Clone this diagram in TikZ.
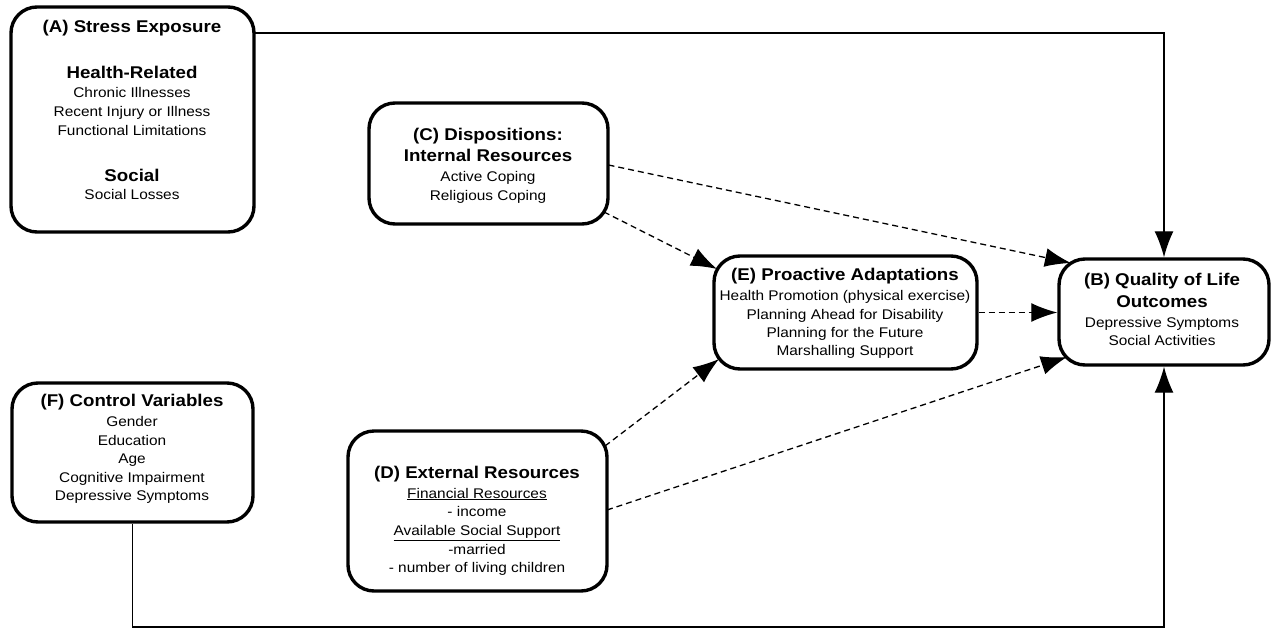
\documentclass[tikz,border=0pt]{standalone}
\usepackage{fontspec}
\setmainfont{Liberation Sans}[FakeStretch=1.1]
\usetikzlibrary{arrows.meta,calc}
\tikzset{
  box/.style={draw, line width=3.4pt, rounded corners=26pt, inner sep=0pt, fill=white},
  ttl/.style={anchor=base, inner sep=0pt, font=\fontsize{17}{20}\selectfont\bfseries},
  txt/.style={anchor=base, inner sep=0pt, font=\fontsize{14}{17}\selectfont},
  conn/.style={line width=1.3pt},
  arr/.style={-{Latex[length=26pt,width=19pt]}},
  dsh/.style={dash pattern=on 6pt off 4pt}
}
\begin{document}
\begin{tikzpicture}[x=1pt,y=-1pt]
\useasboundingbox (0,0) rectangle (1276,629);
% boxes
\node[box, minimum width=243pt, minimum height=225pt] (A) at (132.5,119.5) {};
\node[box, minimum width=239pt, minimum height=121pt] (C) at (488.5,163.5) {};
\node[box, minimum width=263pt, minimum height=113pt] (E) at (845.5,312.5) {};
\node[box, minimum width=210pt, minimum height=106pt] (B) at (1164,312) {};
\node[box, minimum width=241pt, minimum height=139pt] (F) at (132.5,452.5) {};
\node[box, minimum width=259pt, minimum height=160pt] (D) at (477.5,511) {};
% texts A
\node[ttl] (A1) at (132,32) {(A) Stress Exposure};
\node[ttl] (A2) at (132,78.5) {Health-Related};
\node[txt] (A3) at (132,97.5) {Chronic Illnesses};
\node[txt] (A4) at (132,116.5) {Recent Injury or Illness};
\node[txt] (A5) at (132,135) {Functional Limitations};
\node[ttl] (A6) at (132,181.5) {Social};
\node[txt] (A7) at (132,199.5) {Social Losses};
% texts C
\node[ttl] (C1) at (488,140) {(C) Dispositions:};
\node[ttl] (C2) at (488,161.5) {Internal Resources};
\node[txt] (C3) at (488,181.5) {Active Coping};
\node[txt] (C4) at (488,200.5) {Religious Coping};
% texts E
\node[ttl] (E1) at (845,280) {(E) Proactive Adaptations};
\node[txt] (E2) at (845,300.5) {Health Promotion (physical exercise)};
\node[txt] (E3) at (845,319) {Planning Ahead for Disability};
\node[txt] (E4) at (845,337) {Planning for the Future};
\node[txt] (E5) at (845,355) {Marshalling Support};
% texts B
\node[ttl] (B1) at (1162,285) {(B) Quality of Life};
\node[ttl] (B2) at (1162,307) {Outcomes};
\node[txt] (B3) at (1162,327) {Depressive Symptoms};
\node[txt] (B4) at (1162,345) {Social Activities};
% texts F
\node[ttl] (F1) at (132,406.5) {(F) Control Variables};
\node[txt] (F2) at (132,426.5) {Gender};
\node[txt] (F3) at (132,445) {Education};
\node[txt] (F4) at (132,463.5) {Age};
\node[txt] (F5) at (132,482) {Cognitive Impairment};
\node[txt] (F6) at (132,500) {Depressive Symptoms};
% texts D
\node[ttl] (D1) at (477,478.5) {(D) External Resources};
\node[txt] (D2) at (477,498) {\underline{Financial Resources}};
\node[txt] (D3) at (477,516.5) {- income};
\node[txt] (D4) at (477,535.5) {\underline{Available Social Support}};
\node[txt] (D5) at (477,554) {-married};
\node[txt] (D6) at (477,572.5) {- number of living children};
% solid connectors
\coordinate (low) at (640,627);
\draw[conn, arr] ($(A.center)+(121.5,-86.5)$) -| (B.north);
\draw[conn, arr] (F.south) -- (F.south |- low) -| (B.south);
% dashed connectors
\draw[conn, dsh, arr] ($(C.center)+(120,1.5)$) -- ($(B.center)+(-93,-49)$);
\draw[conn, dsh, arr] ($(C.center)+(115.5,48.5)$) -- ($(E.center)+(-128.5,-43.5)$);
\draw[conn, dsh, arr] (E.east) -- (E.east -| B.west);
\draw[conn, dsh, arr] ($(D.center)+(127.5,-65)$) -- ($(E.center)+(-126.5,46.5)$);
\draw[conn, dsh, arr] ($(D.center)+(129.5,-1)$) -- ($(B.center)+(-97,45)$);
\end{tikzpicture}
\end{document}
